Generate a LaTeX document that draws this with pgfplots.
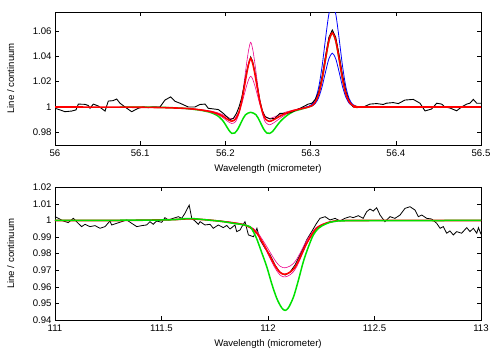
\documentclass[border=0pt]{standalone}
\usepackage{pgfplots}
\pgfplotsset{compat=1.18}
\usepackage{fontspec}
\setmainfont{Liberation Sans}
\definecolor{lgreen}{RGB}{0,225,0}

\pgfplotsset{
  specstyle/.style={
    scale only axis,
    width=426pt,
    axis line style={line width=0.7pt},
    major tick length=4pt,
    tick style={line width=0.6pt,black},
    font=\fontsize{9.6}{11}\selectfont,
    /pgf/number format/assume math mode=true,
    /pgf/number format/.cd,fixed,precision=2,/pgfplots/.cd,
    xlabel={Wavelength (micrometer)},
    ylabel={Line / continuum},
    ylabel style={at={(axis description cs:-0.104,0.5)},anchor=center},
    xticklabel style={yshift=-1pt},
    xlabel style={yshift=-1pt},
  },
  obs/.style={black,line width=0.9pt},
  fit/.style={red,line width=1.6pt,smooth,tension=0.5},
  gr/.style={lgreen,line width=1.5pt,smooth,tension=0.5},
  mg/.style={magenta,line width=0.6pt,smooth,tension=0.5},
  bl/.style={blue,line width=0.8pt,smooth,tension=0.5},
}

\begin{document}
\begin{tikzpicture}
\path[use as bounding box] (0,0) rectangle (498pt,-349pt);

% upper panel
\begin{axis}[specstyle,
  at={(55pt,-145pt)},anchor=south west,height=133pt,
  xmin=56,xmax=56.5,ymin=0.97,ymax=1.075,
  xtick={56,56.1,56.2,56.3,56.4,56.5},
  ytick={0.98,1,1.02,1.04,1.06}]
\addplot[gr] coordinates {
(56.076,1.0000)(56.120,0.9998)(56.150,0.9990)(56.170,0.9975)(56.182,0.9958)
(56.190,0.9935)(56.196,0.9900)(56.200,0.9862)(56.204,0.9818)(56.2075,0.9792)
(56.211,0.9795)(56.215,0.9830)(56.219,0.9885)(56.2235,0.9938)(56.2297,0.9958)
(56.236,0.9938)(56.2405,0.9885)(56.2445,0.9830)(56.2485,0.9795)(56.2518,0.9792)
(56.2555,0.9808)(56.260,0.9848)(56.265,0.9890)(56.272,0.9932)(56.280,0.9965)
(56.290,0.9985)(56.2975,1.0000)(56.3015,1.0010)(56.3055,1.0039)(56.3095,1.0103)
(56.3135,1.0221)(56.3175,1.0379)(56.3215,1.0524)(56.3255,1.0584)(56.3295,1.0524)
(56.3335,1.0379)(56.3375,1.0221)(56.3415,1.0103)(56.3455,1.0039)(56.3495,1.0012)
(56.3535,1.0003)(56.360,1.0000)(56.375,1.0000)};
\addplot[mg] coordinates {
(56.150,0.9990)(56.170,0.9976)(56.185,0.9955)(56.195,0.9925)(56.202,0.9890)
(56.2074,0.9870)(56.212,0.9885)(56.216,0.9950)(56.219,1.0050)(56.222,1.0195)
(56.225,1.0350)(56.2275,1.0458)(56.2297,1.0511)(56.232,1.0458)(56.2345,1.0350)
(56.2375,1.0195)(56.2405,1.0050)(56.2435,0.9945)(56.247,0.9880)(56.2516,0.9860)
(56.256,0.9872)(56.262,0.9900)(56.270,0.9938)(56.280,0.9968)(56.290,0.9988)
(56.298,1.0000)};
\addplot[mg] coordinates {
(56.150,0.9991)(56.170,0.9980)(56.185,0.9965)(56.195,0.9945)(56.202,0.9920)
(56.2074,0.9908)(56.212,0.9920)(56.216,0.9965)(56.219,1.0020)(56.222,1.0095)
(56.225,1.0170)(56.2275,1.0220)(56.2297,1.0243)(56.232,1.0220)(56.2345,1.0170)
(56.2375,1.0095)(56.2405,1.0020)(56.2435,0.9968)(56.247,0.9925)(56.2516,0.9910)
(56.256,0.9918)(56.262,0.9935)(56.270,0.9958)(56.280,0.9976)(56.290,0.9990)
(56.298,1.0000)};
\addplot[bl] coordinates {
(56.285,0.9982)(56.2975,1.0005)(56.3015,1.0020)(56.3055,1.0062)(56.3095,1.0156)
(56.3135,1.0322)(56.3175,1.0539)(56.3215,1.0735)(56.3255,1.0815)(56.3295,1.0735)
(56.3335,1.0539)(56.3375,1.0322)(56.3415,1.0156)(56.3455,1.0062)(56.3495,1.0020)
(56.3535,1.0005)(56.360,1.0000)};
\addplot[bl] coordinates {
(56.285,0.9982)(56.2975,1.0002)(56.3015,1.0009)(56.3055,1.0028)(56.3095,1.0075)
(56.3135,1.0161)(56.3175,1.0276)(56.3215,1.0381)(56.3255,1.0425)(56.3295,1.0381)
(56.3335,1.0276)(56.3375,1.0161)(56.3415,1.0075)(56.3455,1.0028)(56.3495,1.0009)
(56.3535,1.0002)(56.360,1.0000)};
\addplot[obs] coordinates {
(56.000,0.9990)(56.0059,0.9977)(56.0117,0.9963)(56.0196,0.9968)(56.0246,0.9977)
(56.0274,1.0023)(56.0352,1.0021)(56.0391,1.0012)(56.0411,0.9990)(56.045,1.0023)
(56.0508,1.0008)(56.0587,0.9968)(56.0626,1.0047)(56.0680,1.0050)(56.0724,1.0063)
(56.0763,1.0030)(56.0822,1.0000)(56.0900,0.9963)(56.0978,0.9990)(56.1036,1.0000)
(56.1095,0.9995)(56.1154,1.0000)(56.1232,1.0000)(56.1291,1.0055)(56.1358,1.0080)
(56.1408,1.0045)(56.1467,1.0030)(56.1565,1.0000)(56.1643,1.0000)(56.1702,1.0020)
(56.1761,1.0023)(56.1799,0.9990)(56.1858,0.9985)(56.1917,0.9980)(56.1975,0.9950)
(56.2054,0.9900)(56.2093,0.9910)(56.213,0.9950)(56.216,1.0000)(56.219,1.0070)
(56.222,1.0170)(56.225,1.0280)(56.2275,1.0350)(56.2297,1.0395)(56.232,1.0360)
(56.2345,1.0280)(56.2375,1.0160)(56.2405,1.0050)(56.2435,0.9970)(56.2465,0.9924)
(56.2523,0.9906)(56.258,0.9910)(56.264,0.9950)(56.272,0.9950)(56.278,0.9960)
(56.2876,0.9990)(56.2973,1.0023)(56.3015,1.0030)(56.3055,1.0060)(56.3095,1.0120)
(56.3135,1.0240)(56.3175,1.0400)(56.3215,1.0550)(56.3255,1.0608)(56.3295,1.0550)
(56.3335,1.0410)(56.3375,1.0250)(56.3415,1.0120)(56.3455,1.0045)(56.3495,1.0005)
(56.354,0.9995)(56.362,1.0000)(56.3697,1.0023)(56.3776,1.0027)(56.3853,1.0020)
(56.389,1.0030)(56.397,1.0035)(56.403,1.0027)(56.4108,1.0055)(56.4206,1.0060)
(56.4284,1.0030)(56.4343,0.9969)(56.442,0.9984)(56.448,1.0030)(56.4538,1.0023)
(56.4577,1.0000)(56.4636,0.9992)(56.4714,0.9970)(56.4772,1.0000)(56.4832,1.0023)
(56.487,1.0030)(56.491,1.0060)(56.495,1.0030)(56.500,1.0030)};
\addplot[fit] coordinates {
(56.000,1.0000)(56.100,0.9998)(56.150,0.9990)(56.170,0.9978)(56.185,0.9960)
(56.195,0.9935)(56.202,0.9905)(56.2074,0.9888)(56.212,0.9905)(56.216,0.9960)
(56.219,1.0040)(56.222,1.0150)(56.225,1.0265)(56.2275,1.0345)(56.2297,1.0384)
(56.232,1.0345)(56.2345,1.0265)(56.2375,1.0150)(56.2405,1.0040)(56.2435,0.9960)
(56.247,0.9905)(56.2516,0.9887)(56.256,0.9897)(56.262,0.9920)(56.270,0.9948)
(56.280,0.9972)(56.290,0.9988)(56.2975,1.0000)(56.3015,1.0010)(56.3055,1.0039)
(56.3095,1.0103)(56.3135,1.0221)(56.3175,1.0379)(56.3215,1.0524)(56.3255,1.0584)
(56.3295,1.0524)(56.3335,1.0379)(56.3375,1.0221)(56.3415,1.0103)(56.3455,1.0039)
(56.3495,1.0012)(56.3535,1.0003)(56.360,1.0000)(56.500,1.0000)};
\end{axis}

% lower panel
\begin{axis}[specstyle,
  at={(55pt,-320pt)},anchor=south west,height=132.7pt,
  xmin=111,xmax=113,ymin=0.94,ymax=1.02,
  xtick={111,111.5,112,112.5,113},
  ytick={0.94,0.95,0.96,0.97,0.98,0.99,1,1.01,1.02}]
\addplot[obs,line width=0.8pt] coordinates {
(111.000,1.0023)(111.016,1.0013)(111.039,0.9997)(111.062,0.9987)(111.086,1.0013)
(111.109,0.9983)(111.125,0.9963)(111.141,0.9977)(111.164,0.9963)(111.188,0.9969)
(111.211,0.9953)(111.235,0.9963)(111.258,0.9997)(111.266,0.9973)(111.290,0.9983)
(111.313,0.9993)(111.337,1.0003)(111.360,0.9983)(111.384,0.9963)(111.407,0.9969)
(111.430,0.9973)(111.446,0.9993)(111.461,0.9977)(111.477,0.9997)(111.501,0.9989)
(111.516,1.0017)(111.532,1.0003)(111.555,1.0013)(111.579,1.0023)(111.595,1.0013)
(111.610,1.0043)(111.630,1.0093)(111.642,1.0013)(111.657,0.9997)(111.673,0.9977)
(111.681,0.9993)(111.704,0.9973)(111.728,0.9977)(111.743,0.9953)(111.767,0.9973)
(111.790,0.9957)(111.806,0.9970)(111.822,0.9949)(111.845,0.9973)(111.853,0.9933)
(111.869,0.9943)(111.876,0.9960)(111.892,0.9993)(111.908,0.9913)(111.932,0.9902)
(111.948,0.9953)(111.963,0.9882)(111.986,0.9832)(112.010,0.9792)(112.033,0.9732)
(112.056,0.9688)(112.080,0.9671)(112.103,0.9688)(112.127,0.9732)(112.150,0.9792)
(112.166,0.9832)(112.181,0.9882)(112.205,0.9933)(112.228,0.9983)(112.244,1.0013)
(112.268,1.0023)(112.291,1.0003)(112.315,1.0013)(112.338,0.9997)(112.361,1.0013)
(112.385,1.0023)(112.400,1.0017)(112.424,1.0029)(112.447,1.0013)(112.463,1.0053)
(112.479,1.0069)(112.494,1.0057)(112.510,1.0077)(112.526,1.0033)(112.549,0.9993)
(112.573,1.0023)(112.596,1.0013)(112.620,1.0033)(112.643,1.0073)(112.667,1.0083)
(112.690,1.0063)(112.706,1.0023)(112.722,1.0033)(112.745,1.0013)(112.768,1.0009)
(112.792,0.9983)(112.808,0.9953)(112.823,0.9963)(112.839,0.9923)(112.854,0.9937)
(112.870,0.9913)(112.886,0.9933)(112.909,0.9923)(112.933,0.9957)(112.948,0.9933)
(112.964,0.9953)(112.980,0.9923)(112.988,0.9957)(113.000,0.9917)};
\addplot[mg] coordinates {
(111.000,1.0000)(111.300,1.0000)(111.550,1.0005)(111.620,1.0010)(111.700,1.0006)
(111.780,0.9997)(111.840,0.9988)(111.884,0.9978)(111.910,0.9967)(111.931,0.9952)
(111.950,0.9930)(111.963,0.9906)(111.980,0.9872)(111.994,0.9843)(112.010,0.9808)
(112.025,0.9776)(112.040,0.9747)(112.056,0.9725)(112.070,0.9716)(112.080,0.9715)
(112.090,0.9718)(112.103,0.9725)(112.120,0.9742)(112.135,0.9767)(112.150,0.9802)
(112.165,0.9840)(112.181,0.9879)(112.195,0.9906)(112.205,0.9923)(112.228,0.9959)
(112.260,0.9980)(112.307,0.9996)(112.400,1.0000)(113.000,1.0000)};
\addplot[mg] coordinates {
(111.000,1.0000)(111.300,1.0000)(111.550,1.0005)(111.620,1.0010)(111.700,1.0005)
(111.780,0.9995)(111.840,0.9984)(111.884,0.9974)(111.910,0.9960)(111.931,0.9942)
(111.950,0.9916)(111.963,0.9888)(111.980,0.9848)(111.994,0.9813)(112.010,0.9771)
(112.025,0.9732)(112.040,0.9699)(112.056,0.9672)(112.070,0.9661)(112.080,0.9660)
(112.090,0.9663)(112.103,0.9672)(112.120,0.9692)(112.135,0.9722)(112.150,0.9764)
(112.165,0.9809)(112.181,0.9855)(112.195,0.9888)(112.205,0.9909)(112.228,0.9951)
(112.260,0.9976)(112.307,0.9995)(112.400,1.0000)(113.000,1.0000)};
\addplot[fit] coordinates {
(111.000,1.0000)(111.300,1.0000)(111.550,1.0005)(111.620,1.0010)(111.700,1.0005)
(111.780,0.9995)(111.840,0.9985)(111.884,0.9975)(111.910,0.9962)(111.931,0.9945)
(111.950,0.9920)(111.963,0.9893)(111.980,0.9855)(111.994,0.9822)(112.010,0.9782)
(112.025,0.9745)(112.040,0.9713)(112.056,0.9688)(112.070,0.9677)(112.080,0.9676)
(112.090,0.9679)(112.103,0.9688)(112.120,0.9707)(112.135,0.9735)(112.150,0.9775)
(112.165,0.9818)(112.181,0.9862)(112.195,0.9893)(112.205,0.9913)(112.228,0.9953)
(112.260,0.9977)(112.307,0.9995)(112.400,1.0000)(113.000,1.0000)};
\addplot[gr] coordinates {
(111.000,1.0000)(111.500,1.0003)(111.600,1.0010)(111.640,1.0012)(111.700,1.0005)
(111.780,0.9995)(111.837,0.9983)(111.880,0.9975)(111.915,0.9963)(111.930,0.9935)
(111.946,0.9893)(111.969,0.9812)(111.994,0.9722)(112.017,0.9621)(112.041,0.9531)
(112.064,0.9474)(112.080,0.9458)(112.096,0.9474)(112.120,0.9540)(112.143,0.9641)
(112.166,0.9752)(112.190,0.9842)(112.213,0.9913)(112.237,0.9953)(112.268,0.9977)
(112.307,0.9993)(112.400,0.9999)(113.000,1.0000)};
\end{axis}
\end{tikzpicture}
\end{document}
